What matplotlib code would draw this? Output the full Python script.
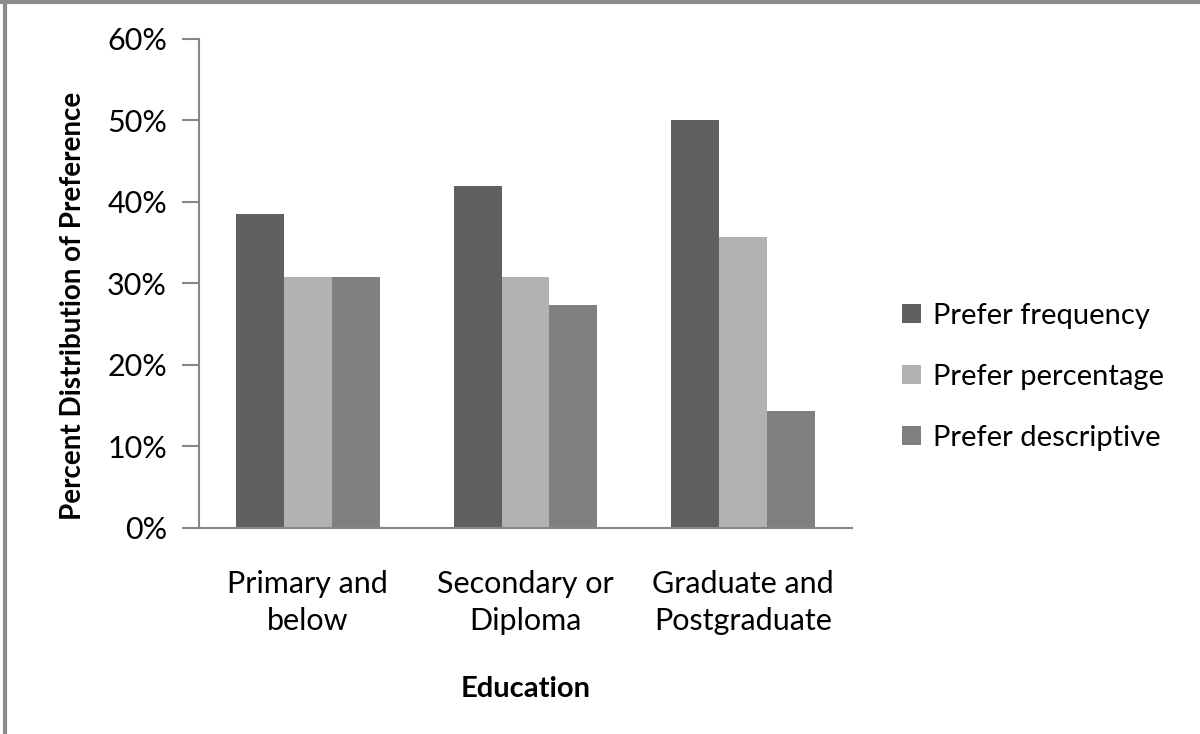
import numpy as np
import matplotlib
matplotlib.use("Agg")
from matplotlib import pyplot as plt
from matplotlib.patches import Patch
from matplotlib.lines import Line2D

categories = ["Primary and\nbelow", "Secondary or\nDiploma", "Graduate and\nPostgraduate"]
series_names = ["Prefer frequency", "Prefer percentage", "Prefer descriptive"]
prefer_frequency = [38.5, 41.9, 50.0]
prefer_percentage = [30.8, 30.8, 35.7]
prefer_descriptive = [30.8, 27.3, 14.3]
yticks = [0, 10, 20, 30, 40, 50, 60]

colors = ["#606060", "#b2b2b2", "#808080"]
axis_grey = "#868686"

plt.rcParams["font.family"] = ["Lato", "DejaVu Sans"]

fig = plt.figure(figsize=(12, 7.34), dpi=100)
ax = fig.add_axes([0.1658, 0.2807, 0.5442, 0.6662])

x = np.arange(len(categories))
w = 0.22
for i, (vals, name) in enumerate(zip([prefer_frequency, prefer_percentage, prefer_descriptive], series_names)):
    ax.bar(x + (i - 1) * w, vals, width=w, color=colors[i], label=name)

ax.set_xlim(-0.5, len(categories) - 0.5)
ax.set_ylim(0, 60)
ax.set_yticks(yticks)
ax.set_yticklabels([f"{t}%" for t in yticks], fontsize=22)
ax.set_xticks(x)
ax.set_xticklabels(categories, fontsize=22, linespacing=1.42)
ax.tick_params(axis="x", length=0, pad=30)
ax.tick_params(axis="y", length=12, color=axis_grey, width=1.5, pad=11)
for s in ["top", "right"]:
    ax.spines[s].set_visible(False)
for s in ["left", "bottom"]:
    ax.spines[s].set_color(axis_grey)
    ax.spines[s].set_linewidth(1.5)

ax.set_ylabel("Percent Distribution of Preference", fontsize=20, fontweight="bold")
ax.yaxis.set_label_coords(-0.173, 0.454)
ax.set_xlabel("Education", fontsize=21, fontweight="bold", labelpad=29)

handles = [Patch(facecolor=c) for c in colors]
fig.legend(handles, series_names, loc="center left", bbox_to_anchor=(0.73, 0.487),
           frameon=False, fontsize=21, handlelength=0.65, handleheight=0.65,
           handletextpad=0.4, labelspacing=1.2)

# grey frame on the left and top edges
fig.add_artist(Line2D([0.004, 0.004], [0, 1], transform=fig.transFigure, color="#8c8c8c", lw=3))
fig.add_artist(Line2D([0, 1], [0.997, 0.997], transform=fig.transFigure, color="#8c8c8c", lw=3))

fig.savefig("out.png", dpi=100, facecolor="white")
